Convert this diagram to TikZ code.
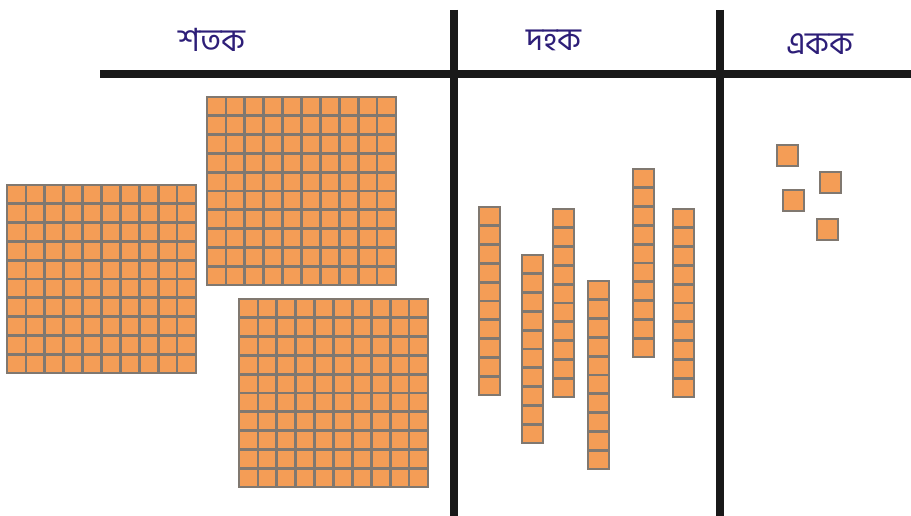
\documentclass[tikz,border=0pt]{standalone}
\usepackage{fontspec}
\newfontfamily\bengfont[Script=Bengali]{Hind Siliguri}
\definecolor{blockfill}{RGB}{244,157,86}
\definecolor{blockedge}{RGB}{128,120,112}
\definecolor{headink}{RGB}{45,30,120}
\definecolor{ruleink}{RGB}{25,25,25}
\begin{document}
\begin{tikzpicture}[x=1pt, y=-1pt,
    unit/.style={fill=blockfill, draw=blockedge, line width=2.7pt},
    rule/.style={draw=ruleink, line width=8pt},
    head/.style={text=headink, font=\bengfont\fontsize{32}{36}\selectfont, inner sep=0pt}]
\useasboundingbox[fill=white] (0,0) rectangle (911,516);
% column rules
\draw[rule](100,74)--(911,74);
\draw[rule](454,10)--(454,516);
\draw[rule](720,10)--(720,516);
% headings
\node[head] (shatak) at (212,40) {শতক};
\node[head] (dahak) at (554,40) {দহক};
\node[head] (ekak) at (820,44) {একক};
% hundreds
\foreach \x/\y in {7/185, 207/97, 239/299}
{
    \foreach \i in {0,...,9}
    \foreach \j in {0,...,9}
        \draw[unit]({\x+\i*18.9},{\y+\j*18.8}) rectangle +(18.9,18.8);
}
% tens
\foreach \x/\y in {479/207, 522/255, 553/209, 588/281, 633/169, 673/209}
{
    \foreach \j in {0,...,9}
        \draw[unit](\x,{\y+\j*18.8}) rectangle +(21,18.8);
}
% ones
\foreach \x/\y in {777/145, 820/172, 783/190, 817/219}
    \draw[unit](\x,\y) rectangle +(21,21);

\end{tikzpicture}
\end{document}
